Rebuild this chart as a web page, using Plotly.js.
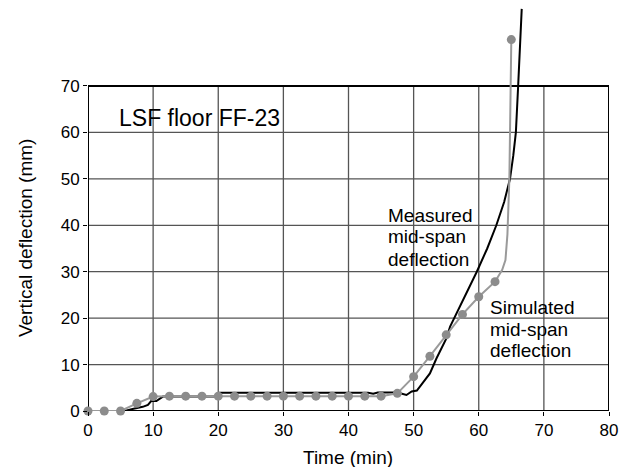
<!DOCTYPE html>
<html>
<head>
<meta charset="utf-8">
<script src="https://cdn.plot.ly/plotly-3.0.1.min.js"></script>
<style>html,body{margin:0;padding:0;background:#fff;}#chart{width:629px;height:467px;}</style>
</head>
<body>
<div id="chart"></div>
<script>
// Measured mid-span deflection (black line)
const measuredTime = [0, 5.6, 7, 8.4, 9.2, 9.7, 10.5, 11.5, 19.5, 20.2, 43, 43.8, 44.5, 46.3, 47.5, 48.9, 49.7, 50.5, 52.5, 53.5, 55.05, 55.6, 57.5, 59.7, 61.3, 62.7, 63.9, 64.8, 65.3, 65.7, 66.05, 66.6];
const measuredDefl = [0, 0, 0.5, 0.9, 1.3, 2.15, 2.15, 3.1, 3.1, 3.95, 3.95, 3.7, 4.0, 3.95, 4.0, 3.45, 4.2, 4.4, 8.1, 11.3, 15.7, 18.2, 23.6, 30.0, 35, 40, 45, 50, 55, 60, 70, 86.6];

// Simulated mid-span deflection (grey line + markers)
const simLineTime = [0, 2.5, 5, 7.5, 10, 12.5, 15, 17.5, 20, 22.5, 25, 27.5, 30, 32.5, 35, 37.5, 40, 42.5, 45, 47.5, 50, 52.5, 55, 57.5, 60, 62.5, 63.6, 64.1, 64.4, 64.55, 64.7, 64.9, 65];
const simLineDefl = [0, 0, 0, 1.65, 3.1, 3.2, 3.2, 3.2, 3.2, 3.2, 3.2, 3.2, 3.2, 3.2, 3.2, 3.2, 3.2, 3.2, 3.2, 3.8, 7.4, 11.8, 16.4, 20.8, 24.6, 27.85, 30.4, 32.5, 38, 45.4, 50, 70, 80];
const simMarkTime = [0, 2.5, 5, 7.5, 10, 12.5, 15, 17.5, 20, 22.5, 25, 27.5, 30, 32.5, 35, 37.5, 40, 42.5, 45, 47.5, 50, 52.5, 55, 57.5, 60, 62.5, 65];
const simMarkDefl = [0, 0, 0, 1.65, 3.1, 3.2, 3.2, 3.2, 3.2, 3.2, 3.2, 3.2, 3.2, 3.2, 3.2, 3.2, 3.2, 3.2, 3.2, 3.8, 7.4, 11.8, 16.4, 20.8, 24.6, 27.85, 80];

const xTicks = [0, 10, 20, 30, 40, 50, 60, 70, 80];
const yTicks = [0, 10, 20, 30, 40, 50, 60, 70];
const xMax = 80, yFrameMax = 70, yRangeMax = 88.52;

const FONT = 'Liberation Sans, Arial, Helvetica, sans-serif';

const shapes = [];
xTicks.slice(1, -1).forEach(v => shapes.push({type:'line', xref:'x', yref:'y', x0:v, x1:v, y0:0, y1:yFrameMax, line:{color:'#555', width:1.3}, layer:'below'}));
yTicks.slice(1, -1).forEach(v => shapes.push({type:'line', xref:'x', yref:'y', x0:0, x1:xMax, y0:v, y1:v, line:{color:'#555', width:1.3}, layer:'below'}));
shapes.push({type:'rect', xref:'x', yref:'y', x0:0, x1:xMax, y0:0, y1:yFrameMax, line:{color:'#000', width:2}, layer:'below'});

const traces = [
  {x: measuredTime, y: measuredDefl, mode:'lines', line:{color:'#000', width:2}, hoverinfo:'skip', cliponaxis:false},
  {x: simLineTime, y: simLineDefl, mode:'lines', line:{color:'#9a9a9a', width:2}, hoverinfo:'skip', cliponaxis:false},
  {x: simMarkTime, y: simMarkDefl, mode:'markers', marker:{color:'#8c8c8c', size:9}, hoverinfo:'skip', cliponaxis:false}
];

const ann = (x, y, text, size) => ({x, y, xref:'x', yref:'y', text, showarrow:false, xanchor:'left', yanchor:'middle', font:{family:FONT, size, color:'#000'}});

const layout = {
  width: 629, height: 467,
  margin: {l:88, r:20, t:0, b:56, pad:0},
  paper_bgcolor:'#fff', plot_bgcolor:'#fff',
  showlegend:false,
  font:{family:FONT, color:'#000'},
  xaxis:{range:[0, xMax], tickvals:xTicks, ticktext:xTicks.map(String), showgrid:false, zeroline:false, showline:false, ticks:'outside', ticklen:4, tickcolor:'#000', tickfont:{family:FONT, size:17}},
  yaxis:{range:[0, yRangeMax], tickvals:yTicks, ticktext:yTicks.map(String), showgrid:false, zeroline:false, showline:false, ticks:'outside', ticklen:4, tickcolor:'#000', tickfont:{family:FONT, size:17}},
  shapes,
  annotations:[
    ann(4.4, 63.1, 'LSF floor FF-23', 23),
    ann(45.7, 42.2, 'Measured', 19),
    ann(45.7, 37.5, 'mid-span', 19),
    ann(45.7, 32.7, 'deflection', 19),
    ann(61.45, 22.25, 'Simulated', 19),
    ann(61.45, 17.6, 'mid-span', 19),
    ann(61.45, 13.1, 'deflection', 19),
    {x:0.499, y:-0.114, xref:'paper', yref:'paper', text:'Time (min)', showarrow:false, xanchor:'center', yanchor:'middle', font:{family:FONT, size:19}},
    {x:-0.121, y:0.423, xref:'paper', yref:'paper', text:'Vertical deflection (mm)', textangle:-90, showarrow:false, xanchor:'center', yanchor:'middle', font:{family:FONT, size:19}}
  ]
};

Plotly.newPlot('chart', traces, layout, {staticPlot:true, displayModeBar:false});
</script>
</body>
</html>
